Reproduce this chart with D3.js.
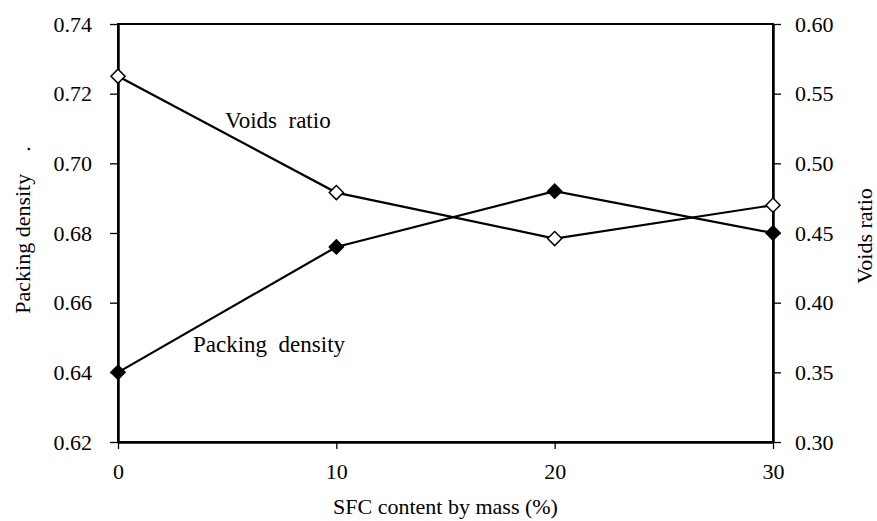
<!DOCTYPE html>
<html>
<head>
<meta charset="utf-8">
<script src="https://cdn.jsdelivr.net/npm/d3@7"></script>
<style>
  body { margin: 0; background: #fff; }
</style>
</head>
<body>
<div id="chart"></div>
<script>
// data
const sfcContent = [0, 10, 20, 30];
const packingDensity = [0.640, 0.676, 0.692, 0.680];
const voidsRatio = [0.5625, 0.479, 0.446, 0.470];
const xTicks = [0, 10, 20, 30];
const leftTicks = [0.62, 0.64, 0.66, 0.68, 0.70, 0.72, 0.74];
const rightTicks = [0.30, 0.35, 0.40, 0.45, 0.50, 0.55, 0.60];

const FONT = 'Liberation Serif, Times New Roman, serif';
const width = 877, height = 521;
const margin = { top: 24, right: 104, bottom: 79, left: 118 };

const svg = d3.select('#chart').append('svg')
  .attr('width', width)
  .attr('height', height)
  .attr('font-family', FONT);

const x = d3.scaleLinear().domain([0, 30]).range([margin.left, width - margin.right]);
const yLeft = d3.scaleLinear().domain([0.62, 0.74]).range([height - margin.bottom, margin.top]);
const yRight = d3.scaleLinear().domain([0.30, 0.60]).range([height - margin.bottom, margin.top]);

// frame
svg.append('rect')
  .attr('x', margin.left)
  .attr('y', margin.top)
  .attr('width', width - margin.left - margin.right)
  .attr('height', height - margin.top - margin.bottom)
  .attr('fill', 'none')
  .attr('stroke', '#000')
  .attr('stroke-width', 2);

function styleAxis(g) {
  g.attr('font-family', FONT).attr('font-size', 22);
  g.select('.domain').attr('stroke-width', 2.5);
  g.selectAll('.tick line').attr('stroke-width', 1.3);
}

svg.append('g')
  .attr('transform', `translate(0,${height - margin.bottom})`)
  .call(d3.axisBottom(x).tickValues(xTicks).tickSize(7).tickPadding(14).tickSizeOuter(0))
  .call(styleAxis);

svg.append('g')
  .attr('transform', `translate(${margin.left},0)`)
  .call(d3.axisLeft(yLeft).tickValues(leftTicks).tickFormat(d3.format('.2f')).tickSize(8).tickPadding(18).tickSizeOuter(0))
  .call(styleAxis);

svg.append('g')
  .attr('transform', `translate(${width - margin.right},0)`)
  .call(d3.axisRight(yRight).tickValues(rightTicks).tickFormat(d3.format('.2f')).tickSize(8).tickPadding(14).tickSizeOuter(0))
  .call(styleAxis);

// series lines
const packLine = d3.line().x((d, i) => x(sfcContent[i])).y(d => yLeft(d));
const voidLine = d3.line().x((d, i) => x(sfcContent[i])).y(d => yRight(d));

svg.append('path')
  .datum(voidsRatio)
  .attr('d', voidLine)
  .attr('fill', 'none')
  .attr('stroke', '#000')
  .attr('stroke-width', 2.2);

svg.append('path')
  .datum(packingDensity)
  .attr('d', packLine)
  .attr('fill', 'none')
  .attr('stroke', '#000')
  .attr('stroke-width', 2.2);

// diamond markers
const diamond = d3.symbol().type(d3.symbolSquare).size(100);

svg.append('g').selectAll('path')
  .data(packingDensity)
  .join('path')
  .attr('d', diamond)
  .attr('transform', (d, i) => `translate(${x(sfcContent[i])},${yLeft(d)}) rotate(45)`)
  .attr('fill', '#000')
  .attr('stroke', '#000')
  .attr('stroke-width', 1.5);

svg.append('g').selectAll('path')
  .data(voidsRatio)
  .join('path')
  .attr('d', diamond)
  .attr('transform', (d, i) => `translate(${x(sfcContent[i])},${yRight(d)}) rotate(45)`)
  .attr('fill', '#fff')
  .attr('stroke', '#000')
  .attr('stroke-width', 1.5);

// in-plot labels
svg.append('text')
  .attr('x', 225).attr('y', 128)
  .attr('font-size', 23)
  .style('white-space', 'pre')
  .text('Voids  ratio');

svg.append('text')
  .attr('x', 193).attr('y', 352)
  .attr('font-size', 23)
  .style('white-space', 'pre')
  .text('Packing  density');

// axis titles
svg.append('text')
  .attr('x', (margin.left + width - margin.right) / 2)
  .attr('y', 514)
  .attr('text-anchor', 'middle')
  .attr('font-size', 22)
  .text('SFC content by mass (%)');

svg.append('text')
  .attr('transform', 'translate(30,230) rotate(-90)')
  .attr('text-anchor', 'middle')
  .attr('font-size', 22)
  .style('white-space', 'pre')
  .text('Packing density    .');

svg.append('text')
  .attr('transform', 'translate(872,236) rotate(-90)')
  .attr('text-anchor', 'middle')
  .attr('font-size', 22)
  .text('Voids ratio');

svg.selectAll('text').attr('font-family', FONT);
</script>
</body>
</html>
